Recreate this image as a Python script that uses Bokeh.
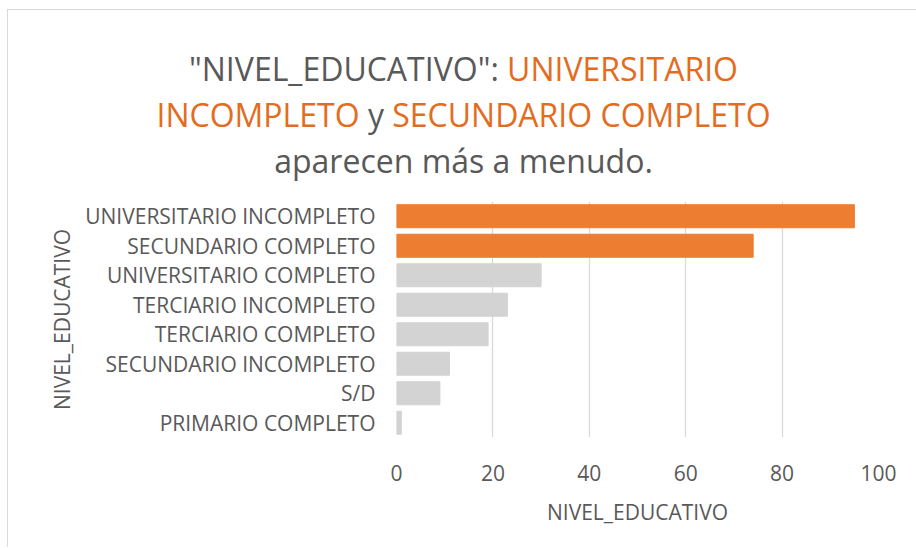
from bokeh.plotting import figure
from bokeh.models import FactorRange, Range1d, FixedTicker, ColumnDataSource, Div
from bokeh.layouts import column
from bokeh.embed import file_html
from bokeh.resources import INLINE

categories = ["UNIVERSITARIO INCOMPLETO", "SECUNDARIO COMPLETO", "UNIVERSITARIO COMPLETO",
              "TERCIARIO INCOMPLETO", "TERCIARIO COMPLETO", "SECUNDARIO INCOMPLETO",
              "S/D", "PRIMARIO COMPLETO"]
counts = [95, 74, 30, 23, 19, 11, 9, 1]
highlight = ["UNIVERSITARIO INCOMPLETO", "SECUNDARIO COMPLETO"]
x_ticks = [0, 20, 40, 60, 80, 100]
axis_title = "NIVEL_EDUCATIVO"

ORANGE = "#ED7D31"
TITLE_ORANGE = "#E46C1E"
GREY_BAR = "#D3D3D3"
TEXT = "#595959"
FONT = "Open Sans"

W = 905
colors = [ORANGE if c in highlight else GREY_BAR for c in categories]
src = ColumnDataSource(dict(cat=categories, n=counts, color=colors))

def o(t):
    return f'<span style="color:{TITLE_ORANGE}">{t}</span>'

title_html = (
    f'<div style="position:relative; left:-2px; width:{W}px; padding-top:31px; text-align:center; '
    f'font-family:\'{FONT}\'; font-size:32px; line-height:46px; color:{TEXT}; white-space:nowrap;">'
    f'"NIVEL_EDUCATIVO": {o("UNIVERSITARIO")}<br>'
    f'{o("INCOMPLETO")} y {o("SECUNDARIO COMPLETO")}<br>'
    f'aparecen más a menudo.</div>'
)
title = Div(text=title_html, width=W, height=180)

p = figure(width=W, height=347, output_backend="svg", toolbar_location=None,
           y_range=FactorRange(factors=list(reversed(categories))),
           x_range=Range1d(0, 100),
           frame_width=482, frame_height=236,
           min_border_left=388, min_border_top=1, min_border_right=35, min_border_bottom=110)
p.hbar(y="cat", right="n", height=0.78, color="color", source=src)

p.outline_line_color = None
p.ygrid.grid_line_color = None
p.xgrid.grid_line_color = "#D9D9D9"
p.xgrid.grid_line_width = 1.3
p.xaxis.ticker = FixedTicker(ticks=x_ticks)
for ax in (p.xaxis[0], p.yaxis[0]):
    ax.axis_line_color = None
    ax.major_tick_line_color = None
    ax.minor_tick_line_color = None
    ax.major_label_text_font = FONT
    ax.major_label_text_font_size = "21px"
    ax.major_label_text_color = TEXT
    ax.axis_label = axis_title
    ax.axis_label_text_font = FONT
    ax.axis_label_text_font_size = "21px"
    ax.axis_label_text_font_style = "normal"
    ax.axis_label_text_color = TEXT
p.yaxis.major_label_standoff = 15
p.yaxis.axis_label_standoff = 6
p.xaxis.major_label_standoff = 21
p.xaxis.axis_label_standoff = 14

layout = column(title, p, spacing=0, margin=(9, 0, 0, 7),
                styles={"border-top": "1px solid #D9D9D9", "border-left": "1px solid #D9D9D9"})

open("out.html", "w").write(file_html(layout, INLINE))
